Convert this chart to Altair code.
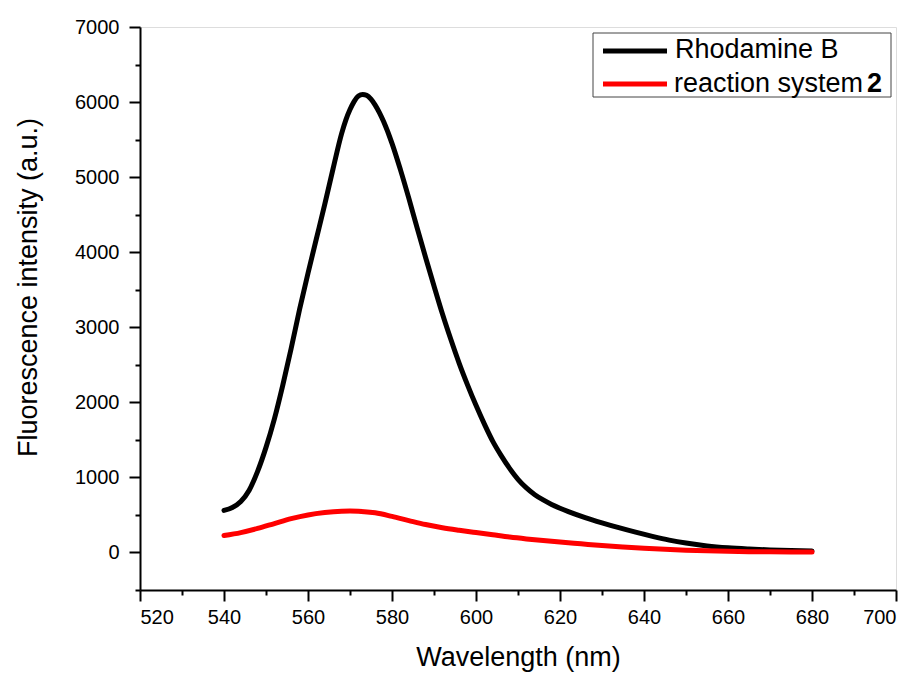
import altair as alt
import pandas as pd

# ---- data ----
series_names = ["Rhodamine B", "reaction system 2"]

wl_black = [540, 542, 544, 546, 548, 550, 552, 554, 556, 558, 560, 562, 564, 566, 568,
            569, 570, 571, 572, 573, 574, 575, 576, 577, 578, 580, 582, 584, 586, 588,
            590, 592, 594, 596, 598, 600, 602, 604, 606, 608, 610, 612, 614, 616, 618,
            620, 622, 626, 630, 634, 638, 642, 646, 650, 655, 660, 665, 670, 675, 680]
int_black = [560, 600, 680, 830, 1080, 1400, 1780, 2230, 2720, 3240, 3720, 4180, 4640, 5120, 5580,
             5760, 5900, 6010, 6080, 6100, 6090, 6040, 5960, 5860, 5740, 5450, 5100, 4720, 4320, 3930,
             3550, 3180, 2840, 2520, 2230, 1960, 1710, 1480, 1290, 1120, 975, 860, 770, 700, 640,
             590, 545, 465, 395, 330, 270, 215, 165, 125, 87, 62, 46, 34, 26, 20]

wl_red = [540, 544, 548, 552, 556, 560, 564, 568, 570, 572, 576, 580, 584, 588, 592,
          596, 600, 604, 608, 612, 616, 620, 625, 630, 635, 640, 645, 650, 655, 660,
          665, 670, 675, 680]
int_red = [225, 265, 320, 385, 450, 500, 532, 550, 553, 550, 528, 480, 425, 372, 330,
           296, 265, 235, 205, 180, 158, 138, 115, 92, 73, 56, 42, 31, 22, 15,
           10, 8, 7, 7]

x_major = list(range(520, 701, 20))
x_minor = list(range(530, 700, 20))
y_major = list(range(0, 7001, 1000))
y_minor = list(range(-500, 7000, 1000))

FONT = "Liberation Sans"

black_df = pd.DataFrame({"wl": wl_black, "v": int_black})
red_df = pd.DataFrame({"wl": wl_red, "v": int_red})
one = pd.DataFrame({"k": [0]})

x_scale = alt.Scale(domain=[520, 700], nice=False, zero=False)
y_scale = alt.Scale(domain=[-500, 7000], nice=False, zero=False)

tick_style = dict(grid=False, tickColor="black", tickWidth=2)

x_axis = alt.Axis(
    orient="bottom", values=x_major, format="d", tickSize=11, title="Wavelength (nm)",
    domainColor="black", domainWidth=2,
    labelFont=FONT, labelFontSize=20, labelColor="black", labelPadding=6,
    titleFont=FONT, titleFontSize=27, titleFontWeight="normal", titleColor="black",
    titlePadding=17, **tick_style,
)
y_axis = alt.Axis(
    orient="left", values=y_major, format="d", tickSize=11, title="Fluorescence intensity (a.u.)",
    domainColor="black", domainWidth=2,
    labelFont=FONT, labelFontSize=20, labelColor="black", labelPadding=10,
    titleFont=FONT, titleFontSize=27, titleFontWeight="normal", titleColor="black",
    titleX=-112, titleY=260, titleBaseline="middle", **tick_style,
)
x_axis_minor = alt.Axis(orient="bottom", values=x_minor, tickSize=5, labels=False,
                        title=None, domain=False, **tick_style)
y_axis_minor = alt.Axis(orient="left", values=y_minor, tickSize=5, labels=False,
                        title=None, domain=False, **tick_style)

black_line = alt.Chart(black_df).mark_line(
    color="black", strokeWidth=5, interpolate="monotone", strokeCap="round"
).encode(
    x=alt.X("wl:Q", scale=x_scale, axis=x_axis),
    y=alt.Y("v:Q", scale=y_scale, axis=y_axis),
)
minor_layer = alt.Chart(black_df).mark_line(opacity=0).encode(
    x=alt.X("wl:Q", scale=x_scale, axis=x_axis_minor),
    y=alt.Y("v:Q", scale=y_scale, axis=y_axis_minor),
)
red_line = alt.Chart(red_df).mark_line(
    color="#ff0000", strokeWidth=5, interpolate="monotone", strokeCap="round"
).encode(
    x=alt.X("wl:Q", scale=x_scale, axis=None),
    y=alt.Y("v:Q", scale=y_scale, axis=None),
)

# ---- hand-made legend (to allow the bold "2") ----
leg_box = alt.Chart(one).mark_rect(
    fill="white", stroke="#444444", strokeWidth=1
).encode(x=alt.value(453), x2=alt.value(751), y=alt.value(6), y2=alt.value(70))
leg_black = alt.Chart(one).mark_rule(color="black", strokeWidth=5).encode(
    x=alt.value(463), x2=alt.value(527), y=alt.value(24))
leg_red = alt.Chart(one).mark_rule(color="#ff0000", strokeWidth=5).encode(
    x=alt.value(463), x2=alt.value(527), y=alt.value(57))
leg_t1 = alt.Chart(one).mark_text(
    text=series_names[0], font=FONT, fontSize=27, align="left", baseline="middle", color="black"
).encode(x=alt.value(535), y=alt.value(23))
leg_t2 = alt.Chart(one).mark_text(
    text="reaction system", font=FONT, fontSize=27, align="right", baseline="middle", color="black"
).encode(x=alt.value(723), y=alt.value(57))
leg_t3 = alt.Chart(one).mark_text(
    text="2", font=FONT, fontSize=27, fontWeight="bold", align="right", baseline="middle", color="black"
).encode(x=alt.value(742), y=alt.value(57))

chart = alt.layer(
    minor_layer, black_line, red_line, leg_box, leg_black, leg_red, leg_t1, leg_t2, leg_t3
).resolve_axis(x="independent", y="independent").properties(
    width=756, height=563,
    autosize=alt.AutoSizeParams(type="none"),
    padding={"left": 132, "top": 19, "right": 12, "bottom": 86},
).configure_view(stroke=None).configure(background="white")

chart.save("out.html", embed_options={"renderer": "svg", "actions": False})
